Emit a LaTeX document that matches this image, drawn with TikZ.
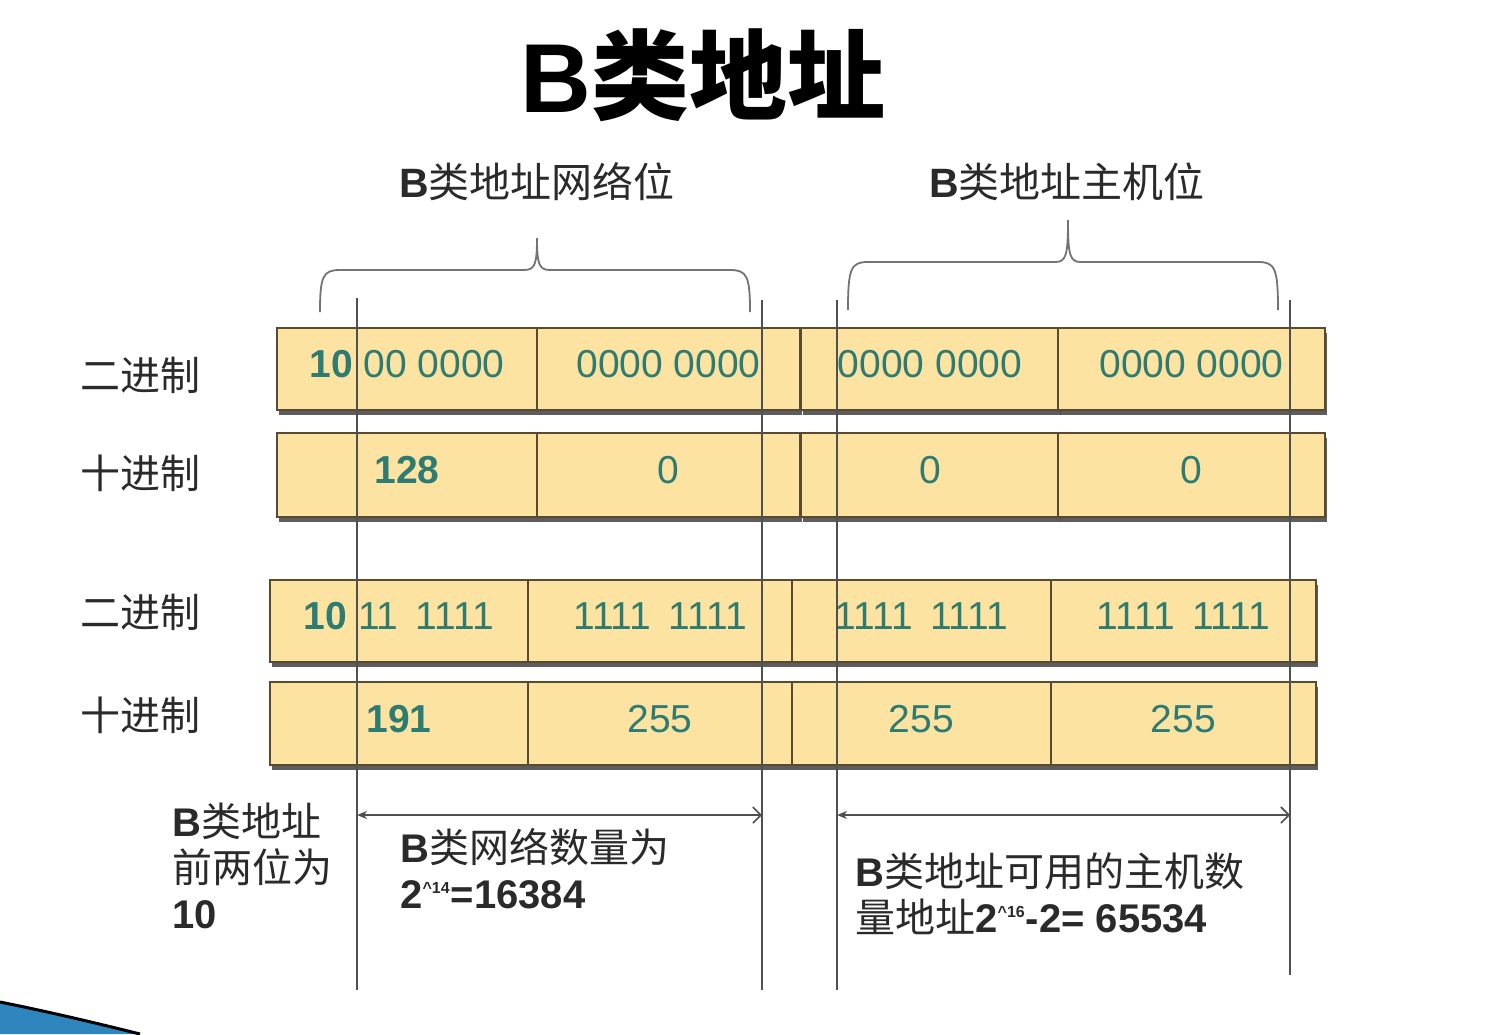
\documentclass[tikz,border=0pt]{standalone}
\usepackage{fontspec}
\setmainfont{Liberation Sans}
\newfontfamily\cjk{Noto Sans CJK SC}
\newcommand{\zh}[1]{{\cjk\mdseries #1}}
\newcommand{\tinysup}[1]{\textsuperscript{\fontsize{8}{8}\selectfont #1}}
\usepackage{tikz}
\usetikzlibrary{arrows.meta, shadows}
\definecolor{cellfill}{HTML}{FCE3A2}
\definecolor{celledge}{HTML}{5A4A30}
\definecolor{numcolor}{HTML}{2E7B72}
\definecolor{guidecolor}{HTML}{505050}
\definecolor{textgray}{HTML}{2A2A2A}
\definecolor{swooshblue}{HTML}{2F86BF}

\begin{document}
\begin{tikzpicture}[
    x=0.5pt, y=-0.5pt,
    cellbox/.style={draw=celledge, line width=0.7pt, fill=cellfill, minimum height=41pt, inner sep=0pt, text depth=5pt, text=numcolor, font=\fontsize{19.5}{22}\selectfont, drop shadow={shadow xshift=1.2pt, shadow yshift=-2.4pt, fill=black!70, opacity=0.9}},
    rowlabel/.style={font=\cjk\fontsize{20}{24}\selectfont, text=textgray},
    heading/.style={font=\bfseries\fontsize{20.5}{24}\selectfont, text=textgray},
    note/.style={font=\bfseries\fontsize{20}{23}\selectfont, text=textgray, align=left, anchor=north west, inner sep=0pt},
    guide/.style={draw=guidecolor, line width=1pt},
    span/.style={draw=guidecolor, line width=0.8pt, arrows={Stealth[length=5pt,width=4pt]-Straight Barb[length=4pt,width=8pt]}},
    brace/.style={draw=guidecolor!80, line width=0.9pt}
]
\useasboundingbox[fill=white] (0,0) rectangle (1510,1034);

% Title
\node[font=\bfseries\fontsize{49}{56}\selectfont] (title) at (703,75) {B{\cjk 类地址}};

% Headers
\node[heading] (netlbl) at (537,182) {B\zh{类地址网络位}};
\node[heading] (hostlbl) at (1067,182) {B\zh{类地址主机位}};

% Braces
\coordinate (nbl) at (320,312);
\coordinate (nbr) at (750,312);
\coordinate (nbt) at (537,238);
\draw[brace] (nbl) .. controls (320,276) and (323,270) .. (340,270) -- (524,270)
    .. controls (535,270) and (537,264) .. (nbt)
    .. controls (537,264) and (539,270) .. (550,270) -- (730,270)
    .. controls (747,270) and (750,276) .. (nbr);
\coordinate (hbl) at (848,310);
\coordinate (hbr) at (1278,310);
\coordinate (hbt) at (1068,220);
\draw[brace] (hbl) .. controls (848,268) and (851,262) .. (868,262) -- (1055,262)
    .. controls (1066,262) and (1068,256) .. (hbt)
    .. controls (1068,256) and (1070,262) .. (1081,262) -- (1258,262)
    .. controls (1275,262) and (1278,268) .. (hbr);

% Row labels
\node[rowlabel] (lab1) at (140,375) {二进制};
\node[rowlabel] (lab2) at (140,473) {十进制};
\node[rowlabel] (lab3) at (140,612) {二进制};
\node[rowlabel] (lab4) at (140,715) {十进制};

% 128.0.0.0
\node[cellbox, minimum width=130pt] (b11) at (407,369) {\textbf{10} 00 0000};
\node[cellbox, minimum width=131.5pt] (b12) at (668.5,369) {0000 0000};
\node[cellbox, minimum width=129pt] (b13) at (930,369) {0000 0000};
\node[cellbox, minimum width=133.5pt] (b14) at (1191.5,369) {0000 0000};

\node[cellbox, minimum width=130pt, minimum height=42pt] (d11) at (407,475) {\textbf{128}};
\node[cellbox, minimum width=131.5pt, minimum height=42pt] (d12) at (668.5,475) {0};
\node[cellbox, minimum width=129pt, minimum height=42pt] (d13) at (930,475) {0};
\node[cellbox, minimum width=133.5pt, minimum height=42pt] (d14) at (1191.5,475) {0};

% 191.255.255.255
\node[cellbox, minimum width=129pt] (b21) at (399,621) {\textbf{10} 11\, 1111};
\node[cellbox, minimum width=132pt] (b22) at (660,621) {1111\, 1111};
\node[cellbox, minimum width=129.5pt] (b23) at (921.5,621) {1111\, 1111};
\node[cellbox, minimum width=132.5pt] (b24) at (1183.5,621) {1111\, 1111};

\node[cellbox, minimum width=129pt, minimum height=41.5pt] (d21) at (399,723.5) {\textbf{191}};
\node[cellbox, minimum width=132pt, minimum height=41.5pt] (d22) at (660,723.5) {255};
\node[cellbox, minimum width=129.5pt, minimum height=41.5pt] (d23) at (921.5,723.5) {255};
\node[cellbox, minimum width=132.5pt, minimum height=41.5pt] (d24) at (1183.5,723.5) {255};

% Guide lines
\coordinate (g1t) at (357,298);  \coordinate (g1b) at (357,990);
\coordinate (g2t) at (762,300);  \coordinate (g2b) at (762,990);
\coordinate (g3t) at (837,300);  \coordinate (g3b) at (837,990);
\coordinate (g4t) at (1290,300); \coordinate (g4b) at (1290,975);
\draw[guide] (g1t) -- (g1b);
\draw[guide] (g2t) -- (g2b);
\draw[guide] (g3t) -- (g3b);
\draw[guide] (g4t) -- (g4b);

% Spans
\coordinate (s1l) at (357,815); \coordinate (s1r) at (762,815);
\coordinate (s2l) at (837,815); \coordinate (s2r) at (1290,815);
\draw[span] (s1l) -- (s1r);
\draw[span] (s2l) -- (s2r);

% Notes
\node[note] (prefix) at (172,802) {B\zh{类地址}\\\zh{前两位为}\\10};
\node[note] (netcount) at (400,828) {B\zh{类网络数量为}\\2\tinysup{\textasciicircum 14}=16384};
\node[note] (hostcount) at (855,852) {B\zh{类地址可用的主机数}\\\zh{量地址}2\tinysup{\textasciicircum 16}-2= 65534};

% Corner swoosh
\fill[swooshblue] (0,1002) .. controls (50,1012) and (100,1024) .. (140,1034) -- (0,1034) -- cycle;
\draw[black, line width=1.5pt] (0,1002) .. controls (50,1012) and (100,1024) .. (140,1034);
\end{tikzpicture}
\end{document}
